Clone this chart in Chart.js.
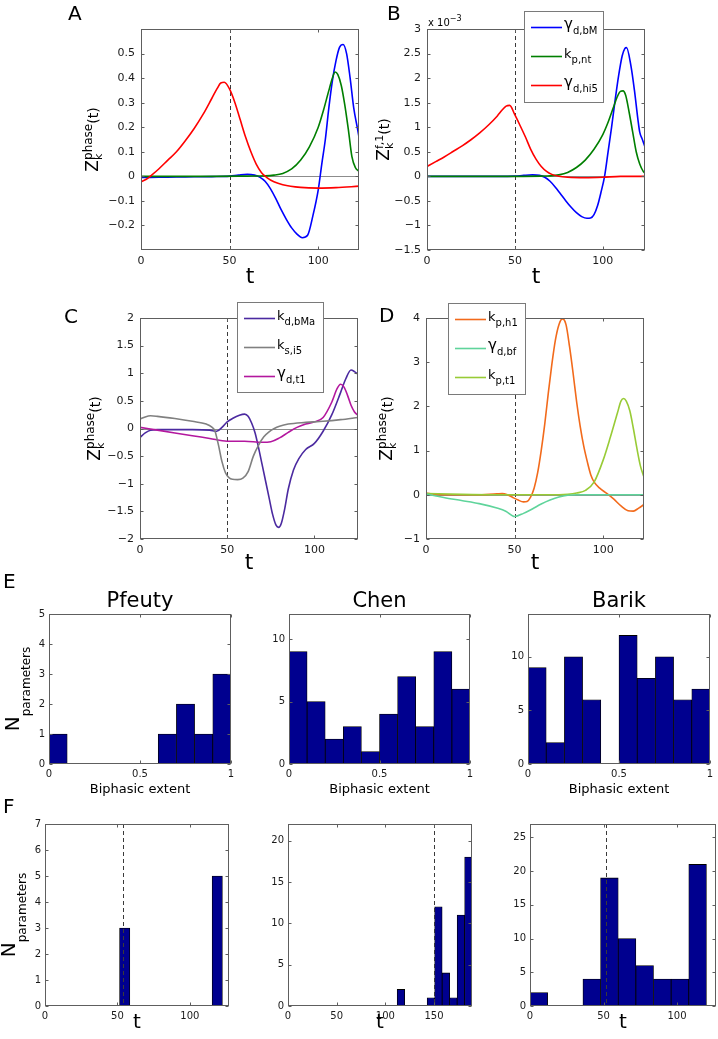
<!DOCTYPE html>
<html lang="en">
<head>
<meta charset="utf-8">
<title>Figura</title>
<script src="https://cdn.jsdelivr.net/npm/chart.js@4.4.1/dist/chart.umd.min.js"></script>
<style>
    body { margin: 0; background: #fff; }
    #figura { position: relative; width: 718px; height: 1039px; overflow: hidden; background: #fff; }
    #figura canvas { position: absolute; left: 0; top: 0; }
    .letra { position: absolute; font: 20px/20px 'DejaVu Sans', sans-serif; color: #000; }
</style>
</head>
<body>
<div id="figura">
    <canvas id="panelA" width="718" height="1039"></canvas>
    <canvas id="panelB" width="718" height="1039"></canvas>
    <canvas id="panelC" width="718" height="1039"></canvas>
    <canvas id="panelD" width="718" height="1039"></canvas>
    <canvas id="panelE1" width="718" height="1039"></canvas>
    <canvas id="panelE2" width="718" height="1039"></canvas>
    <canvas id="panelE3" width="718" height="1039"></canvas>
    <canvas id="panelF1" width="718" height="1039"></canvas>
    <canvas id="panelF2" width="718" height="1039"></canvas>
    <canvas id="panelF3" width="718" height="1039"></canvas>
    <div class="letra" style="left:68px; top:3px">A</div>
    <div class="letra" style="left:387px; top:3px">B</div>
    <div class="letra" style="left:64px; top:306px">C</div>
    <div class="letra" style="left:379px; top:305px">D</div>
    <div class="letra" style="left:3px; top:571px">E</div>
    <div class="letra" style="left:3px; top:796px">F</div>
</div>
<script>
// ---------------- datos ----------------

// panel A (Z phase)
const tAzulA = [0, 10, 20, 30, 40, 50, 55, 60, 64, 67, 70, 73, 76, 79, 82, 85, 88, 91, 94, 97, 100, 102, 104, 106, 108, 110, 112, 114, 116, 118, 120, 122, 123];
const zAzulA = [-0.005, -0.004, -0.003, -0.002, -0.001, 0.001, 0.005, 0.008, 0.005, -0.003, -0.02, -0.05, -0.09, -0.135, -0.175, -0.21, -0.235, -0.25, -0.24, -0.16, -0.055, 0.05, 0.15, 0.28, 0.39, 0.47, 0.525, 0.537, 0.5, 0.4, 0.28, 0.2, 0.16];
const tVerdeA = [0, 20, 40, 60, 70, 75, 80, 85, 90, 95, 100, 103, 106, 108, 109.5, 111, 113, 115, 117, 119, 121, 123];
const zVerdeA = [0, 0, 0, 0.001, 0.002, 0.005, 0.012, 0.03, 0.065, 0.12, 0.2, 0.27, 0.35, 0.4, 0.425, 0.415, 0.37, 0.29, 0.19, 0.08, 0.035, 0.02];
const tRojoA = [0, 3, 6, 10, 15, 20, 25, 30, 35, 40, 43, 45, 47, 50, 53, 56, 59, 62, 65, 68, 71, 75, 80, 90, 100, 110, 123];
const zRojoA = [-0.022, -0.012, 0.005, 0.03, 0.065, 0.1, 0.145, 0.195, 0.252, 0.318, 0.358, 0.38, 0.383, 0.355, 0.3, 0.23, 0.16, 0.1, 0.05, 0.015, -0.005, -0.022, -0.034, -0.045, -0.048, -0.046, -0.04];

// panel B (Z f,1, unidades de 1e-3)
const tAzulB = [0, 20, 40, 50, 55, 60, 64, 67, 70, 73, 76, 79, 82, 85, 88, 91, 93, 95, 97, 99, 101, 103, 105, 107, 109, 111, 112.5, 113.5, 116, 118, 120, 121, 122.5, 124];
const zAzulB = [0, 0, 0, 0.005, 0.02, 0.03, 0.02, -0.02, -0.1, -0.22, -0.36, -0.5, -0.63, -0.74, -0.82, -0.855, -0.85, -0.78, -0.6, -0.32, 0, 0.5, 1.0, 1.55, 2.05, 2.45, 2.6, 2.62, 2.25, 1.75, 1.15, 0.9, 0.75, 0.6];
const tVerdeB = [0, 40, 65, 70, 75, 80, 85, 90, 95, 100, 103, 106, 108, 110, 111.5, 113, 115, 117, 119, 121, 123, 124];
const zVerdeB = [0, 0, 0.005, 0.01, 0.03, 0.08, 0.18, 0.33, 0.55, 0.85, 1.1, 1.4, 1.6, 1.73, 1.74, 1.65, 1.3, 0.9, 0.5, 0.25, 0.1, 0.06];
const tRojoB = [0, 5, 10, 15, 20, 25, 30, 35, 40, 43, 45, 47, 50, 53, 56, 59, 62, 65, 68, 71, 75, 80, 90, 100, 110, 124];
const zRojoB = [0.2, 0.3, 0.4, 0.51, 0.62, 0.745, 0.885, 1.045, 1.23, 1.36, 1.43, 1.445, 1.25, 1.03, 0.8, 0.55, 0.35, 0.2, 0.1, 0.04, 0.0, -0.02, -0.03, -0.02, 0, 0];

// panel C
const tMoradoC = [0, 3, 6, 10, 20, 30, 40, 44, 47, 50, 53, 57, 60, 62, 64, 66, 68, 70, 72, 74, 76, 78, 79.5, 81, 83, 85, 88, 91, 95, 100, 105, 110, 115, 118, 121, 123, 125];
const zMoradoC = [-0.16, -0.08, -0.03, -0.02, -0.02, -0.02, -0.03, -0.05, 0.02, 0.12, 0.18, 0.24, 0.26, 0.22, 0.1, -0.08, -0.35, -0.65, -0.95, -1.25, -1.55, -1.75, -1.79, -1.72, -1.45, -1.1, -0.75, -0.55, -0.38, -0.27, -0.05, 0.25, 0.65, 0.9, 1.06, 1.03, 0.98];
const tGrisC = [0, 3, 6, 10, 20, 30, 38, 41, 43, 45, 47, 49, 51, 53, 56, 59, 62, 65, 68, 71, 74, 77, 80, 85, 95, 105, 115, 125];
const zGrisC = [0.17, 0.21, 0.23, 0.22, 0.18, 0.13, 0.08, 0.03, -0.05, -0.3, -0.6, -0.8, -0.89, -0.92, -0.925, -0.9, -0.78, -0.5, -0.3, -0.15, -0.06, 0.0, 0.04, 0.08, 0.11, 0.13, 0.16, 0.2];
const tMagentaC = [0, 10, 20, 30, 40, 50, 60, 70, 75, 80, 85, 90, 95, 100, 105, 110, 113, 115, 117, 119, 121, 123, 125];
const zMagentaC = [0.02, -0.03, -0.08, -0.13, -0.18, -0.23, -0.23, -0.25, -0.24, -0.17, -0.07, 0.02, 0.08, 0.12, 0.2, 0.48, 0.72, 0.8, 0.75, 0.6, 0.42, 0.3, 0.24];

// panel D
const tNaranjaD = [0, 5, 10, 20, 30, 40, 43, 46, 49, 52, 55, 57, 59, 61, 63, 65, 67, 69, 71, 73, 75, 77, 79, 81, 83, 85, 87, 89, 91, 93, 95, 98, 102, 106, 110, 114, 117, 120, 123];
const zNaranjaD = [0.04, 0.01, 0, 0, 0, 0.02, 0.03, 0, -0.06, -0.12, -0.16, -0.15, -0.05, 0.15, 0.5, 1.0, 1.6, 2.3, 2.95, 3.5, 3.85, 3.98, 3.85, 3.35, 2.75, 2.1, 1.55, 1.1, 0.75, 0.45, 0.28, 0.15, 0.03, -0.1, -0.25, -0.36, -0.37, -0.3, -0.22];
const tMentaD = [0, 5, 10, 20, 30, 40, 45, 50, 55, 60, 65, 70, 75, 80, 85, 95, 110, 123];
const zMentaD = [0.02, -0.02, -0.06, -0.13, -0.2, -0.3, -0.37, -0.49, -0.42, -0.32, -0.21, -0.12, -0.05, -0.01, 0, 0, 0, 0];
const tLimaD = [0, 20, 40, 60, 75, 80, 85, 90, 95, 100, 104, 108, 110, 111.5, 113, 115, 117, 119, 121, 123];
const zLimaD = [0.03, 0.01, 0, 0, 0, 0.01, 0.04, 0.1, 0.3, 0.79, 1.3, 1.85, 2.12, 2.18, 2.12, 1.9, 1.5, 1.05, 0.65, 0.4];

// panel E (histogramas de extension bifasica)
const centrosE = [0.05, 0.15, 0.25, 0.35, 0.45, 0.55, 0.65, 0.75, 0.85, 0.95];
const pfeutyE = [1, 0, 0, 0, 0, 0, 1, 2, 1, 3];
const chenE = [9, 5, 2, 3, 1, 4, 7, 3, 9, 6];
const barikE = [9, 2, 10, 6, 0, 12, 8, 10, 6, 7];

// panel F (histogramas de t)
const centrosPfeutyF = [55, 62.1, 69.2, 76.3, 83.4, 90.5, 97.6, 104.7, 111.8, 118.9];
const pfeutyF = [3, 0, 0, 0, 0, 0, 0, 0, 0, 5];
const centrosChenF = [116, 123.7, 131.4, 139.1, 146.8, 154.5, 162.2, 169.9, 177.6, 185.3];
const chenF = [2, 0, 0, 0, 1, 12, 4, 1, 11, 18];
const centrosBarikF = [6, 18, 30, 42, 54, 66, 78, 90, 102, 114];
const barikF = [2, 0, 0, 4, 19, 10, 6, 4, 4, 21];

// marcas de los ejes
const marcasT = [0, 50, 100];
const marcasTChen = [0, 50, 100, 150];
const marcasYA = [-0.2, -0.1, 0, 0.1, 0.2, 0.3, 0.4, 0.5];
const marcasYB = [-1.5, -1, -0.5, 0, 0.5, 1, 1.5, 2, 2.5, 3];
const marcasYC = [-2, -1.5, -1, -0.5, 0, 0.5, 1, 1.5, 2];
const marcasYD = [-1, 0, 1, 2, 3, 4];
const marcasExt = [0, 0.5, 1];
const marcasYE1 = [0, 1, 2, 3, 4, 5];
const marcasCinco = [0, 5, 10];
const marcasYF1 = [0, 1, 2, 3, 4, 5, 6, 7];
const marcasYF2 = [0, 5, 10, 15, 20];
const marcasYF3 = [0, 5, 10, 15, 20, 25];

// colores
const azul = '#0000ff', verde = '#007f00', rojo = '#ff0000';
const morado = '#4b2aa0', gris = '#808080', magenta = '#b3179e';
const naranja = '#f26a1b', menta = '#5fd49b', lima = '#98cb36';
const barra = '#00008f';

const FUENTE = "'DejaVu Sans', sans-serif";
Chart.defaults.font.family = FUENTE;

// ---------------- utilidades ----------------

function puntos(ts, zs) {
    return ts.map((t, i) => ({ x: t, y: zs[i] }));
}

function curva(ts, zs, color) {
    return {
        data: puntos(ts, zs),
        borderColor: color,
        borderWidth: 1.6,
        pointRadius: 0,
        tension: 0.4,
        cubicInterpolationMode: 'monotone',
        fill: false
    };
}

function histograma(centros, cuentas) {
    return {
        data: puntos(centros, cuentas),
        backgroundColor: barra,
        borderColor: '#000000',
        borderWidth: 0.8,
        borderSkipped: false,
        barPercentage: 1,
        categoryPercentage: 1
    };
}

// texto con subindices / superindices
function textoRico(ctx, partes, x, y, rotado, centrado) {
    ctx.save();
    ctx.translate(x, y);
    if (rotado) ctx.rotate(-Math.PI / 2);
    ctx.fillStyle = '#000';
    ctx.textBaseline = 'alphabetic';
    ctx.textAlign = 'left';
    const pos = [];
    let cursor = 0, pila = 0;
    partes.forEach(p => {
        ctx.font = p.tam + 'px ' + FUENTE;
        const w = ctx.measureText(p.t).width;
        pos.push(cursor);
        if (p.apila) {
            pila = Math.max(pila, cursor + w);
        } else {
            cursor = Math.max(cursor + w, pila);
            pila = 0;
        }
    });
    const total = Math.max(cursor, pila);
    const x0 = centrado ? -total / 2 : 0;
    partes.forEach((p, i) => {
        ctx.font = p.tam + 'px ' + FUENTE;
        ctx.fillText(p.t, x0 + pos[i], p.dy || 0);
    });
    ctx.restore();
}

function lineaCorte(ctx, a, escala, valor) {
    const px = Math.round(escala.getPixelForValue(valor)) + 0.5;
    ctx.save();
    ctx.setLineDash([4, 3]);
    ctx.strokeStyle = '#3a3a3a';
    ctx.lineWidth = 1;
    ctx.beginPath();
    ctx.moveTo(px, a.top);
    ctx.lineTo(px, a.bottom);
    ctx.stroke();
    ctx.restore();
}

function dibujarLeyenda(ctx, ley) {
    ctx.save();
    ctx.fillStyle = '#fff';
    ctx.fillRect(ley.x, ley.y, ley.w, ley.h);
    ctx.strokeStyle = '#7a7a7a';
    ctx.lineWidth = 1;
    ctx.strokeRect(ley.x + 0.5, ley.y + 0.5, ley.w, ley.h);
    ley.items.forEach((it, i) => {
        const cy = ley.y + 16.5 + i * 29;
        ctx.strokeStyle = it.color;
        ctx.lineWidth = 1.6;
        ctx.beginPath();
        ctx.moveTo(ley.x + 7, cy);
        ctx.lineTo(ley.x + 38, cy);
        ctx.stroke();
        textoRico(ctx, it.partes, ley.x + 40, cy + 1.5, false, false);
    });
    ctx.restore();
}

// plugin: caja, marcas hacia dentro, lineas de referencia, leyenda y rotulos
const decorado = {
    id: 'decorado',
    beforeDatasetsDraw(chart, args, op) {
        const { ctx, chartArea: a, scales } = chart;
        if (op.lineaCero) {
            const py = Math.round(scales.y.getPixelForValue(0)) + 0.5;
            ctx.save();
            ctx.strokeStyle = '#8c8c8c';
            ctx.lineWidth = 1;
            ctx.beginPath();
            ctx.moveTo(a.left, py);
            ctx.lineTo(a.right, py);
            ctx.stroke();
            ctx.restore();
        }
        if (op.corte !== undefined && !op.corteEncima) lineaCorte(ctx, a, scales.x, op.corte);
    },
    afterDatasetsDraw(chart, args, op) {
        const { ctx, chartArea: a, scales } = chart;
        if (op.corte !== undefined && op.corteEncima) lineaCorte(ctx, a, scales.x, op.corte);

        ctx.save();
        ctx.strokeStyle = '#5e5e5e';
        ctx.lineWidth = 1;
        const l = Math.round(a.left) + 0.5, r = Math.round(a.right) - 0.5;
        const t = Math.round(a.top) + 0.5, b = Math.round(a.bottom) - 0.5;
        ctx.strokeRect(l, t, r - l, b - t);
        ctx.beginPath();
        scales.x.ticks.forEach(m => {
            const px = Math.round(scales.x.getPixelForValue(m.value)) + 0.5;
            ctx.moveTo(px, b); ctx.lineTo(px, b - 3);
            ctx.moveTo(px, t); ctx.lineTo(px, t + 3);
        });
        scales.y.ticks.forEach(m => {
            const py = Math.round(scales.y.getPixelForValue(m.value)) + 0.5;
            ctx.moveTo(l, py); ctx.lineTo(l + 3, py);
            ctx.moveTo(r, py); ctx.lineTo(r - 3, py);
        });
        ctx.stroke();
        ctx.restore();

        if (op.leyenda) dibujarLeyenda(ctx, op.leyenda);
    },
    afterDraw(chart, args, op) {
        const { ctx, chartArea: a } = chart;
        const cx = (a.left + a.right) / 2, cy = (a.top + a.bottom) / 2;
        if (op.etiquetaX) textoRico(ctx, op.etiquetaX.partes, cx, a.bottom + op.etiquetaX.dy, false, true);
        if (op.etiquetaY) textoRico(ctx, op.etiquetaY.partes, a.left + op.etiquetaY.dx, cy, true, true);
        if (op.titulo) textoRico(ctx, op.titulo.partes, cx, a.top + op.titulo.dy, false, true);
        if (op.extra) textoRico(ctx, op.extra.partes, a.left + op.extra.dx, a.top + op.extra.dy, false, false);
    }
};
Chart.register(decorado);

function eje(min, max, marcas, fs, cual, relleno) {
    return {
        type: 'linear',
        min: min,
        max: max,
        offset: false,
        grid: { display: false, drawTicks: false },
        border: { display: false },
        ticks: {
            font: { size: fs },
            color: '#1a1a1a',
            padding: relleno,
            maxRotation: 0,
            autoSkip: false,
            callback: v => String(v).replace('-', '\u2212')
        },
        afterBuildTicks: ax => { ax.ticks = marcas.map(v => ({ value: v })); },
        afterFit: ax => {
            if (cual === 'x') ax.height = 25;
            else ax.width = 40;
        }
    };
}

function crearPanel(id, tipo, conjuntos, cfg) {
    new Chart(document.getElementById(id), {
        type: tipo,
        data: { datasets: conjuntos },
        options: {
            responsive: false,
            animation: false,
            events: [],
            layout: {
                padding: {
                    left: cfg.area.l - 40,
                    top: cfg.area.t,
                    right: 718 - cfg.area.r,
                    bottom: 1039 - cfg.area.b - 25
                }
            },
            plugins: {
                legend: { display: false },
                tooltip: { enabled: false },
                decorado: cfg.decor
            },
            scales: {
                x: eje(cfg.x[0], cfg.x[1], cfg.x[2], cfg.fs, 'x', cfg.fs > 10 ? 5 : 4),
                y: eje(cfg.y[0], cfg.y[1], cfg.y[2], cfg.fs, 'y', cfg.fs > 10 ? 6 : 4)
            }
        }
    });
}

// ---------------- rotulos ----------------

const rotuloZfase = [
    { t: 'Z', tam: 17 },
    { t: 'k', tam: 11, dy: 3.5, apila: true },
    { t: 'phase', tam: 12, dy: -6 },
    { t: '(t)', tam: 14 }
];
const rotuloZf1 = [
    { t: 'Z', tam: 17 },
    { t: 'k', tam: 11, dy: 3.5, apila: true },
    { t: 'f,1', tam: 11, dy: -6.5 },
    { t: '(t)', tam: 14 }
];
const rotuloN = [
    { t: 'N', tam: 20 },
    { t: 'parameters', tam: 12, dy: 11 }
];
const rotuloT = [{ t: 't', tam: 22 }];
const rotuloTChico = [{ t: 't', tam: 20 }];
const rotuloExt = [{ t: 'Biphasic extent', tam: 13 }];

function nombre(base, sub, tamBase) {
    return [{ t: base, tam: tamBase }, { t: sub, tam: 10, dy: 5 }];
}

// ---------------- paneles ----------------

document.addEventListener('DOMContentLoaded', function () {

    crearPanel('panelA', 'line', [
        curva(tRojoA, zRojoA, rojo),
        curva(tVerdeA, zVerdeA, verde),
        curva(tAzulA, zAzulA, azul)
    ], {
        area: { l: 141, r: 359, t: 29, b: 250 }, fs: 11,
        x: [0, 123, marcasT], y: [-0.3, 0.6, marcasYA],
        decor: {
            lineaCero: true, corte: 50,
            etiquetaX: { partes: rotuloT, dy: 33 },
            etiquetaY: { partes: rotuloZfase, dx: -43 }
        }
    });

    crearPanel('panelB', 'line', [
        curva(tRojoB, zRojoB, rojo),
        curva(tVerdeB, zVerdeB, verde),
        curva(tAzulB, zAzulB, azul)
    ], {
        area: { l: 427, r: 645, t: 29, b: 250 }, fs: 11,
        x: [0, 124, marcasT], y: [-1.5, 3, marcasYB],
        decor: {
            lineaCero: true, corte: 50,
            etiquetaX: { partes: rotuloT, dy: 33 },
            etiquetaY: { partes: rotuloZf1, dx: -38 },
            extra: { partes: [{ t: 'x 10', tam: 10 }, { t: '\u22123', tam: 8, dy: -5 }], dx: 1, dy: -3 },
            leyenda: {
                x: 524, y: 11, w: 79, h: 91,
                items: [
                    { color: azul, partes: nombre('\u03b3', 'd,bM', 15) },
                    { color: verde, partes: nombre('k', 'p,nt', 13) },
                    { color: rojo, partes: nombre('\u03b3', 'd,hi5', 15) }
                ]
            }
        }
    });

    crearPanel('panelC', 'line', [
        curva(tGrisC, zGrisC, gris),
        curva(tMagentaC, zMagentaC, magenta),
        curva(tMoradoC, zMoradoC, morado)
    ], {
        area: { l: 140, r: 358, t: 318, b: 539 }, fs: 11,
        x: [0, 125, marcasT], y: [-2, 2, marcasYC],
        decor: {
            lineaCero: true, corte: 50,
            etiquetaX: { partes: rotuloT, dy: 30 },
            etiquetaY: { partes: rotuloZfase, dx: -40 },
            leyenda: {
                x: 237, y: 302, w: 86, h: 90,
                items: [
                    { color: morado, partes: nombre('k', 'd,bMa', 13) },
                    { color: gris, partes: nombre('k', 's,i5', 13) },
                    { color: magenta, partes: nombre('\u03b3', 'd,t1', 15) }
                ]
            }
        }
    });

    crearPanel('panelD', 'line', [
        curva(tMentaD, zMentaD, menta),
        curva(tLimaD, zLimaD, lima),
        curva(tNaranjaD, zNaranjaD, naranja)
    ], {
        area: { l: 426, r: 644, t: 318, b: 539 }, fs: 11,
        x: [0, 123, marcasT], y: [-1, 4, marcasYD],
        decor: {
            lineaCero: true, corte: 50,
            etiquetaX: { partes: rotuloT, dy: 30 },
            etiquetaY: { partes: rotuloZfase, dx: -34 },
            leyenda: {
                x: 448, y: 303, w: 77, h: 91,
                items: [
                    { color: naranja, partes: nombre('k', 'p,h1', 13) },
                    { color: menta, partes: nombre('\u03b3', 'd,bf', 15) },
                    { color: lima, partes: nombre('k', 'p,t1', 13) }
                ]
            }
        }
    });

    crearPanel('panelE1', 'bar', [histograma(centrosE, pfeutyE)], {
        area: { l: 49, r: 231, t: 614, b: 764 }, fs: 10,
        x: [0, 1, marcasExt], y: [0, 5, marcasYE1],
        decor: {
            titulo: { partes: [{ t: 'Pfeuty', tam: 21 }], dy: -7 },
            etiquetaX: { partes: rotuloExt, dy: 29 },
            etiquetaY: { partes: rotuloN, dx: -30 }
        }
    });

    crearPanel('panelE2', 'bar', [histograma(centrosE, chenE)], {
        area: { l: 289, r: 470, t: 614, b: 764 }, fs: 10,
        x: [0, 1, marcasExt], y: [0, 12, marcasCinco],
        decor: {
            titulo: { partes: [{ t: 'Chen', tam: 21 }], dy: -7 },
            etiquetaX: { partes: rotuloExt, dy: 29 }
        }
    });

    crearPanel('panelE3', 'bar', [histograma(centrosE, barikE)], {
        area: { l: 528, r: 710, t: 614, b: 764 }, fs: 10,
        x: [0, 1, marcasExt], y: [0, 14, marcasCinco],
        decor: {
            titulo: { partes: [{ t: 'Barik', tam: 21 }], dy: -7 },
            etiquetaX: { partes: rotuloExt, dy: 29 }
        }
    });

    crearPanel('panelF1', 'bar', [histograma(centrosPfeutyF, pfeutyF)], {
        area: { l: 45, r: 229, t: 824, b: 1006 }, fs: 10,
        x: [0, 127, marcasT], y: [0, 7, marcasYF1],
        decor: {
            corte: 54, corteEncima: true,
            etiquetaX: { partes: rotuloTChico, dy: 22 },
            etiquetaY: { partes: rotuloN, dx: -30 }
        }
    });

    crearPanel('panelF2', 'bar', [histograma(centrosChenF, chenF)], {
        area: { l: 288, r: 472, t: 824, b: 1006 }, fs: 10,
        x: [0, 189, marcasTChen], y: [0, 22, marcasYF2],
        decor: {
            corte: 150, corteEncima: true,
            etiquetaX: { partes: rotuloTChico, dy: 22 }
        }
    });

    crearPanel('panelF3', 'bar', [histograma(centrosBarikF, barikF)], {
        area: { l: 530, r: 716, t: 824, b: 1006 }, fs: 10,
        x: [0, 126.5, marcasT], y: [0, 27, marcasYF3],
        decor: {
            corte: 52, corteEncima: true,
            etiquetaX: { partes: rotuloTChico, dy: 22 }
        }
    });
});
</script>
</body>
</html>
